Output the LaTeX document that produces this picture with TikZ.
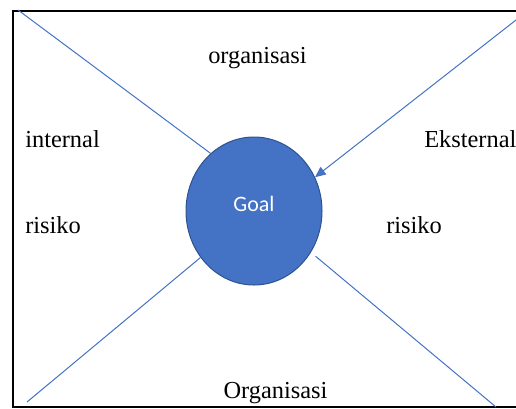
\documentclass[tikz,border=0pt]{standalone}
\usepackage{fontspec}
\setmainfont{Liberation Serif}
\newfontfamily\goalfont{Carlito}
\usetikzlibrary{arrows.meta,shapes.geometric}
\definecolor{goalblue}{HTML}{4472C4}
\definecolor{goaledge}{HTML}{2F528F}

\begin{document}
\begin{tikzpicture}[x=0.75pt,y=-0.75pt,
    link/.style={goalblue, line width=0.75pt},
    word/.style={font=\fontsize{18.3}{22}\selectfont, inner sep=0pt}]
    \useasboundingbox (0,0) rectangle (516,408);
    % Frame (open to the right)
    \draw[line width=1.1pt] (540,11) -- (13,11) -- (13,407) -- (540,407);
    % Goal
    \node[ellipse, fill=goalblue, draw=goaledge, line width=0.75pt,
          minimum width=102pt, minimum height=111pt, inner sep=0pt,
          text=white, font=\goalfont\fontsize{16.5}{19}\selectfont,
          text height=9pt, text depth=9pt] (goal) at (254,211) {Goal};
    % Labels
    \node[word, anchor=base] (orgtop) at (257.5,63) {organisasi};
    \node[word, anchor=base west] (intern) at (25,147) {internal};
    \node[word, anchor=base west] (riskleft) at (25,233) {risiko};
    \node[word, anchor=base west] (extern) at (424,147) {Eksternal};
    \node[word, anchor=base west] (riskright) at (386,233) {risiko};
    \node[word, anchor=base] (orgbottom) at (275.5,398) {Organisasi};
    % Lines
    \coordinate (tl) at (18,10);
    \coordinate (tr) at (516,20);
    \coordinate (bl) at (27,402);
    \coordinate (br) at (496,407);
    \draw[link] (tl) -- (goal.127);
    \draw[link, -{Triangle[length=8pt,width=7pt]}] (tr) -- (goal.29);
    \draw[link] (bl) -- (goal.221);
    \draw[link, shorten >=4.5pt] (br) -- (goal.324);
\end{tikzpicture}
\end{document}
